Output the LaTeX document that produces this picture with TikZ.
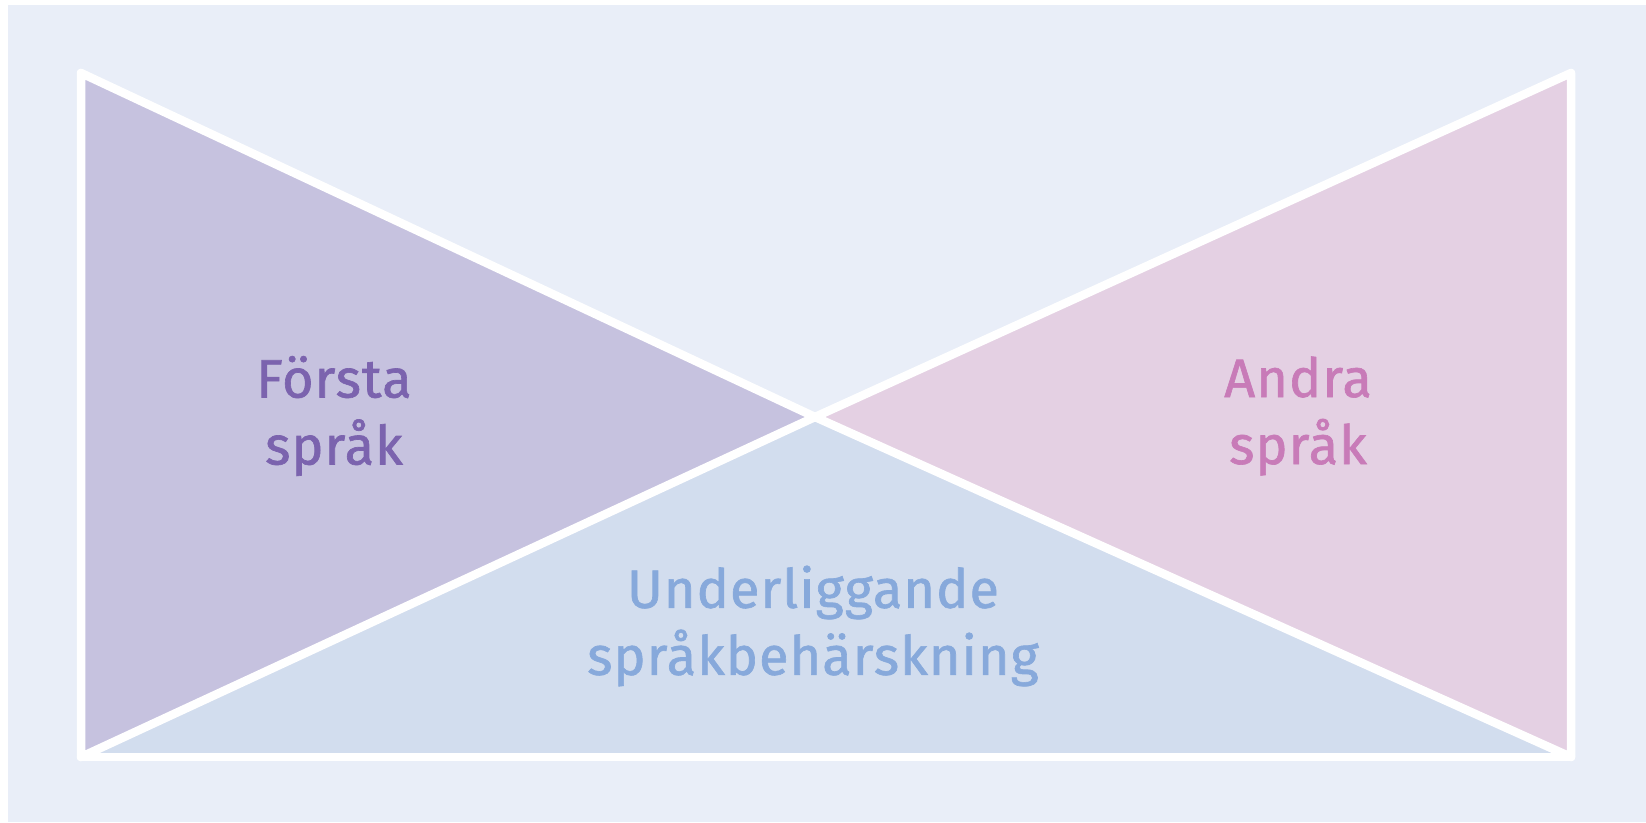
\documentclass[tikz,border=0pt]{standalone}
\usepackage{fontspec}
\setmainfont{Fira Sans}[LetterSpace=2,FakeBold=1.2]
\definecolor{bgc}{HTML}{E9EEF8}
\definecolor{leftc}{HTML}{C6C2DF}
\definecolor{rightc}{HTML}{E4D0E3}
\definecolor{botc}{HTML}{D2DDEE}
\definecolor{purpt}{HTML}{7B63AE}
\definecolor{pinkt}{HTML}{C87BB8}
\definecolor{bluet}{HTML}{87A9DB}
\tikzset{
  wline/.style={draw=white,line width=8.5pt,line join=round,line cap=round},
  lbl/.style={align=center,font=\fontsize{54}{67}\selectfont,inner sep=0pt}
}
\begin{document}
\begin{tikzpicture}[x=1pt,y=-1pt]
\useasboundingbox (0,0) rectangle (1646,822);
\fill[white] (0,0) rectangle (1646,822);
\fill[bgc] (8,5) rectangle (1646,822);
\coordinate (TL) at (81,73);
\coordinate (BL) at (81,757);
\coordinate (TR) at (1571,73);
\coordinate (BR) at (1571,757);
\coordinate (C) at (815,417);
\fill[leftc] (TL) -- (C) -- (BL) -- cycle;
\fill[rightc] (TR) -- (C) -- (BR) -- cycle;
\fill[botc] (BL) -- (C) -- (BR) -- cycle;
\draw[wline] (TL) -- (C) -- (BL) -- cycle;
\draw[wline] (TR) -- (C) -- (BR) -- cycle;
\draw[wline] (BL) -- (BR);
\node[lbl,text=purpt] (first) at (334,416) {Första\\språk};
\node[lbl,text=pinkt] (second) at (1298,416) {Andra\\språk};
\node[lbl,text=bluet] (under) at (813,626) {Underliggande\\språkbehärskning};
\end{tikzpicture}
\end{document}
